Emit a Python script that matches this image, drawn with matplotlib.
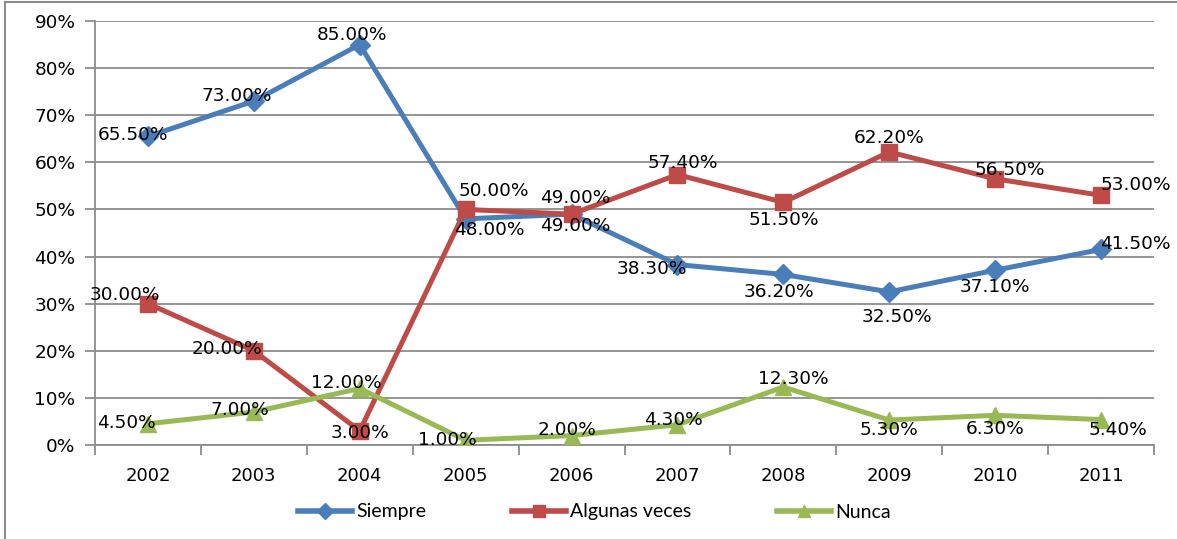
import matplotlib
matplotlib.use("Agg")
import matplotlib.pyplot as plt
from matplotlib.lines import Line2D
from matplotlib.ticker import FixedLocator, NullFormatter

years = ["2002", "2003", "2004", "2005", "2006", "2007", "2008", "2009", "2010", "2011"]
siempre = [65.5, 73.0, 85.0, 48.0, 49.0, 38.3, 36.2, 32.5, 37.1, 41.5]
algunas = [30.0, 20.0, 3.0, 50.0, 49.0, 57.4, 51.5, 62.2, 56.5, 53.0]
nunca = [4.5, 7.0, 12.0, 1.0, 2.0, 4.3, 12.3, 5.3, 6.3, 5.4]
series_names = ["Siempre", "Algunas veces", "Nunca"]

# label offsets in pixels (dx, dy), picked by eye from the original
off_siempre = [(-15, 1), (-17, 5), (-8, 10), (24, -11), (4, -12), (-26, -4), (-4, -18), (8, -25), (0, -17), (34, 5)]
off_algunas = [(-23, 9), (-27, 2), (0, -2), (28, 18), (4, 16), (5, 12), (0, -18), (0, 14), (15, 9), (35, 10)]
off_nunca = [(-22, 1), (-14, 2), (-13, 5), (-18, 0), (-4, 6), (-4, 5), (10, 8), (0, -10), (0, -14), (17, -10)]

colors = ["#4A7EBB", "#BE4B48", "#98B954"]
markers = ["D", "s", "^"]
msizes = [10, 12, 12]

fig = plt.figure(figsize=(11.77, 5.39), dpi=100)
ax = fig.add_axes([95 / 1177, 94 / 539, 1059 / 1177, 424 / 539])

x = list(range(len(years)))
for vals, offs, c, m, ms, name in zip([siempre, algunas, nunca], [off_siempre, off_algunas, off_nunca],
                                      colors, markers, msizes, series_names):
    ax.plot(x, vals, color=c, lw=3.6, marker=m, ms=ms, mec=c, mfc=c, label=name, zorder=3)
    for xi, v, (dx, dy) in zip(x, vals, offs):
        ax.annotate(f"{v:.2f}%", (xi, v), xytext=(dx, dy), textcoords="offset pixels",
                    ha="center", va="center", fontsize=13.3, color="black", zorder=5)

ax.set_xlim(-0.5, 9.5)
ax.set_ylim(0, 90)
ax.set_yticks(range(0, 91, 10))
ax.set_yticklabels([f"{t}%" for t in range(0, 91, 10)], fontsize=13.3)
ax.yaxis.grid(True, color="#8c8c8c", lw=1.3)
ax.set_axisbelow(True)

ax.set_xticks(x)
ax.set_xticklabels(years, fontsize=13)
ax.xaxis.set_minor_locator(FixedLocator([i - 0.5 for i in range(len(years) + 1)]))
ax.xaxis.set_minor_formatter(NullFormatter())
ax.tick_params(axis="x", which="major", length=0, pad=16)
ax.tick_params(axis="x", which="minor", length=7, width=1.3, color="#8c8c8c")
ax.tick_params(axis="y", length=7, width=1.3, color="#8c8c8c", pad=7)

for s in ["top", "right"]:
    ax.spines[s].set_visible(False)
for s in ["left", "bottom"]:
    ax.spines[s].set_color("#8c8c8c")
    ax.spines[s].set_linewidth(1.3)

leg = fig.legend(loc="center", bbox_to_anchor=(0.505, 27 / 539), ncol=3, frameon=False,
                 handlelength=2.8, columnspacing=4.4, handletextpad=0.2,
                 prop={"family": "Lato", "size": 14})
for h in leg.legend_handles:
    h.set_markersize(8)
    h.set_linewidth(4)

# outer chart border (left and top visible)
fig.add_artist(Line2D([5 / 1177, 5 / 1177], [0, 537 / 539], transform=fig.transFigure, color="#8c8c8c", lw=1.5))
fig.add_artist(Line2D([5 / 1177, 1], [537 / 539, 537 / 539], transform=fig.transFigure, color="#8c8c8c", lw=1.5))

fig.savefig("out.png", dpi=100)
